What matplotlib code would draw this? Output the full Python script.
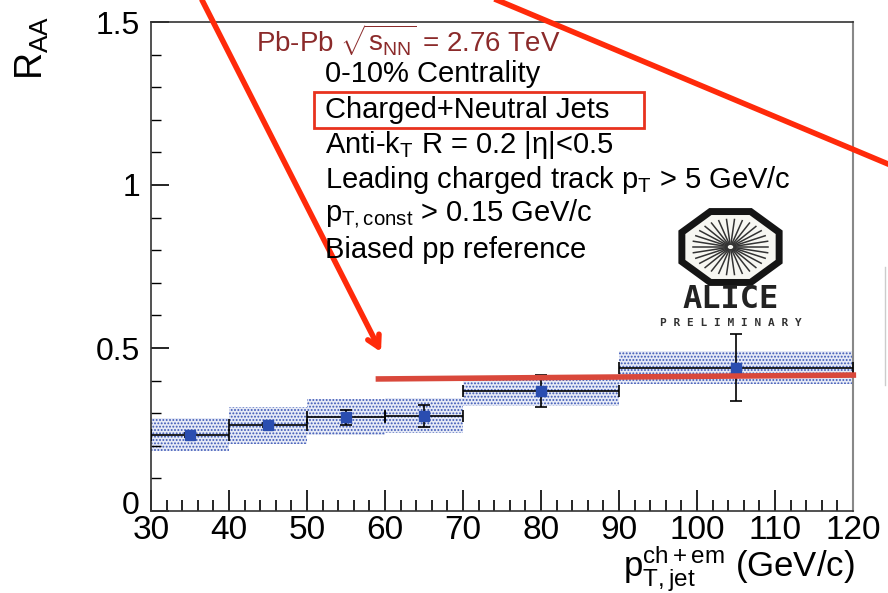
import numpy as np
import matplotlib
matplotlib.use('Agg')
import matplotlib.pyplot as plt
from matplotlib.patches import Polygon, Rectangle
from matplotlib.ticker import MultipleLocator
from matplotlib.transforms import ScaledTranslation

plt.rcParams['font.family'] = ['Liberation Sans', 'DejaVu Sans']
plt.rcParams['mathtext.fontset'] = 'custom'
plt.rcParams['mathtext.rm'] = 'Liberation Sans'
plt.rcParams['mathtext.it'] = 'Liberation Sans:italic'
plt.rcParams['hatch.linewidth'] = 0.9

# RAA vs jet pT (charged + neutral jets)
bin_lo = [30, 40, 50, 60, 70, 90]
bin_hi = [40, 50, 60, 70, 90, 120]
pt = [35, 45, 55, 65, 80, 105]
raa = [0.233, 0.264, 0.288, 0.291, 0.368, 0.439]
stat_err = [0.005, 0.005, 0.023, 0.033, 0.05, 0.103]
sys_lo = [0.184, 0.206, 0.233, 0.239, 0.322, 0.390]
sys_hi = [0.285, 0.319, 0.344, 0.347, 0.411, 0.491]

# red hand-drawn line on the slide
ref_x = [58.8, 120.4]
ref_y = [0.405, 0.417]

info_lines = ['0-10% Centrality',
              'Charged+Neutral Jets',
              'Anti-k$_\\mathregular{T}$ R = 0.2 |η|<0.5',
              'Leading charged track p$_\\mathregular{T}$ > 5 GeV/c',
              'p$_\\mathregular{T,const}$ > 0.15 GeV/c',
              'Biased pp reference']
info_y = [74, 110, 145, 180, 213, 250]

W, H = 888, 593
fig = plt.figure(figsize=(W / 100, H / 100), dpi=100)


def px(x, y):
    # pixel position (from top-left) -> figure fraction
    return x / W, 1 - y / H


ax = fig.add_axes([151 / W, (H - 511) / H, (853 - 151) / W, (511 - 22) / H])

centers = [(a + b) / 2 for a, b in zip(bin_lo, bin_hi)]
widths = [b - a for a, b in zip(bin_lo, bin_hi)]
heights = [h - l for l, h in zip(sys_lo, sys_hi)]
ax.bar(centers, heights, width=widths, bottom=sys_lo, facecolor='#e6eaf6',
       edgecolor='#3a55b5', hatch='.....', linewidth=0, zorder=1)

xerr = [[p - a for p, a in zip(pt, bin_lo)], [b - p for p, b in zip(pt, bin_hi)]]
ax.errorbar(pt, raa, xerr=xerr, yerr=stat_err, fmt='s', color='#2a4db0',
            ms=7, ecolor='black', elinewidth=1.2, capsize=4, capthick=1.2, zorder=3)

ax.plot(ref_x, ref_y, color='#d9483b', lw=4, solid_capstyle='butt',
        clip_on=False, zorder=4)

ax.set_xlim(30, 120)
ax.set_ylim(0, 1.5)
ax.xaxis.set_major_locator(MultipleLocator(10))
ax.xaxis.set_minor_locator(MultipleLocator(2))
ax.yaxis.set_minor_locator(MultipleLocator(0.1))
ax.set_yticks([0, 0.5, 1, 1.5])
ax.set_yticklabels(['0', '0.5', '1', '1.5'])
ax.tick_params(axis='x', which='major', direction='in', length=15, width=1.2,
               labelsize=24, pad=3)
ax.tick_params(axis='x', which='minor', direction='in', length=8, width=1.2)
ax.tick_params(axis='y', which='major', direction='in', length=13, width=1.2,
               labelsize=23, pad=8)
ax.tick_params(axis='y', which='minor', direction='in', length=7, width=1)
ax.tick_params(top=False, right=False, which='both')
for s in ['left', 'bottom', 'top']:
    ax.spines[s].set_color('#333333')
    ax.spines[s].set_linewidth(1.2)
ax.spines['right'].set_color('#888888')
ax.spines['right'].set_linewidth(1.5)

# lift the "0" a little so it sits just above the "30"
lab0 = ax.get_yticklabels()[0]
lab0.set_transform(lab0.get_transform() + ScaledTranslation(0, 6 / 72, fig.dpi_scale_trans))

fig.text(*px(32, 48), 'R$_\\mathregular{AA}$', rotation=90, fontsize=27,
         ha='center', va='center')
fig.text(*px(855, 577), 'p$_\\mathregular{T,jet}^\\mathregular{ch+em}$ (GeV/c)',
         fontsize=25, ha='right', va='baseline')

# text block
fig.text(*px(256, 40), 'Pb-Pb $\\sqrt{\\mathregular{s}_\\mathregular{NN}}$ = 2.76 TeV',
         fontsize=20, color='#8b2a2a', ha='left', va='center')
for line, yy in zip(info_lines, info_y):
    fig.text(*px(325, yy), line, fontsize=21, ha='left', va='center')
x0, y0 = px(314, 128)
x1, y1 = px(644, 92)
fig.add_artist(Rectangle((x0, y0), x1 - x0, y1 - y0, transform=fig.transFigure,
                         fill=False, edgecolor='#e8321e', lw=2))

# ALICE logo
lax = fig.add_axes([677 / W, (H - 286) / H, 107 / W, 78 / H])
lax.set_xlim(-1.1, 1.1)
lax.set_ylim(-1.1, 1.1)
lax.axis('off')
ang = np.deg2rad(22.5 + 45 * np.arange(8))
oct_pts = np.column_stack([np.cos(ang), np.sin(ang)]) / np.cos(np.deg2rad(22.5))
lax.add_patch(Polygon(oct_pts, closed=True, facecolor='#f7f7f2',
                      edgecolor='#151515', lw=5))
for a in np.deg2rad(np.arange(0, 360, 12)):
    lax.plot([0.08 * np.cos(a), 0.78 * np.cos(a)], [0.08 * np.sin(a), 0.78 * np.sin(a)],
             color='#333333', lw=1.1)
fig.text(*px(731, 300), 'ALICE', fontsize=23, family='DejaVu Sans Mono',
         weight='bold', color='#222222', ha='center', va='center')
fig.text(*px(731, 323), 'P R E L I M I N A R Y', fontsize=8, family='DejaVu Sans Mono',
         weight='bold', color='#333333', ha='center', va='center')

# red arrows drawn on the slide
ax.annotate('', xy=px(381, 352), xytext=px(202, 0), xycoords='figure fraction',
            textcoords='figure fraction', annotation_clip=False,
            arrowprops=dict(arrowstyle='->,head_length=0.8,head_width=0.45',
                            color='#ff2a0a', lw=4, shrinkA=0, shrinkB=0))
fig.add_artist(plt.Line2D([497 / W, 1.0], [1, 1 - 164 / H], color='#ff2a0a',
                          lw=4, transform=fig.transFigure))
fig.add_artist(plt.Line2D([885 / W, 885 / W], [0.35, 0.55], color='#cccccc',
                          lw=1, transform=fig.transFigure))

fig.savefig('out.png', dpi=100)
